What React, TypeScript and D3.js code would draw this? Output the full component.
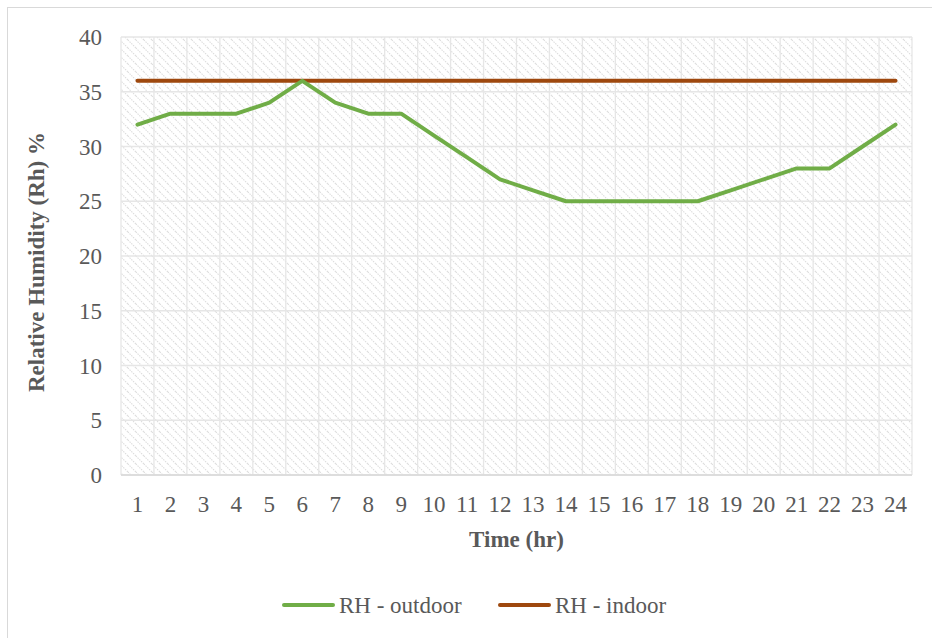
import React from "react";
import * as d3 from "d3";

const hours = Array.from({ length: 24 }, (_, i) => String(i + 1));
const outdoor = [32, 33, 33, 33, 34, 36, 34, 33, 33, 31, 29, 27, 26, 25, 25, 25, 25, 25, 26, 27, 28, 28, 30, 32];
const indoor = [36, 36, 36, 36, 36, 36, 36, 36, 36, 36, 36, 36, 36, 36, 36, 36, 36, 36, 36, 36, 36, 36, 36, 36];
const yTicks = [0, 5, 10, 15, 20, 25, 30, 35, 40];
const seriesNames = ["RH - outdoor", "RH - indoor"];
const colors = ["#70ad47", "#9e480e"];

const W = 932, H = 638;
const left = 121, right = 912, top = 37, bottom = 475;

export default function App() {
  const x = d3.scaleBand<string>().domain(hours).range([left, right]);
  const y = d3.scaleLinear().domain([0, 40]).range([bottom, top]);
  const line = d3.line<number>()
    .x((_, i) => (x(hours[i]) as number) + x.bandwidth() / 2)
    .y((d) => y(d));
  const font = "'Liberation Serif', 'Times New Roman', serif";
  const fs = 23;
  const boundaries = hours.map((h) => x(h) as number).concat([right]);
  return (
    <svg width={W} height={H} style={{ position: "absolute", left: 0, top: 0, background: "#fff" }}>
      <defs>
        <pattern id="hatch" width="8" height="8" patternUnits="userSpaceOnUse">
          <path d="M-2,-2 L10,10 M-2,6 L2,10 M6,-2 L10,2" stroke="#dcdcdc" strokeWidth="1.1" strokeDasharray="1.5 1" />
        </pattern>
      </defs>
      <rect x={7.5} y={7.5} width={W} height={H} fill="#fff" stroke="#d9d9d9" strokeWidth={1} />
      <rect x={left} y={top} width={right - left} height={bottom - top} fill="url(#hatch)" />
      {boundaries.map((bx, i) => (
        <line key={"v" + i} x1={bx} x2={bx} y1={top} y2={bottom} stroke="#e6e6e6" strokeWidth={1.3} />
      ))}
      {yTicks.map((t) => (
        <line key={"h" + t} x1={left} x2={right} y1={y(t)} y2={y(t)} stroke="#e6e6e6" strokeWidth={1.3} />
      ))}
      <line x1={left} x2={right} y1={bottom} y2={bottom} stroke="#d9d9d9" strokeWidth={1.5} />
      {yTicks.map((t) => (
        <text key={"yt" + t} x={102} y={y(t)} dy="0.35em" textAnchor="end" fontFamily={font} fontSize={fs} fill="#595959">{t}</text>
      ))}
      {hours.map((h) => (
        <text key={"xt" + h} x={(x(h) as number) + x.bandwidth() / 2} y={512} textAnchor="middle" fontFamily={font} fontSize={fs} fill="#595959">{h}</text>
      ))}
      <text x={(left + right) / 2} y={547} textAnchor="middle" fontFamily={font} fontSize={fs} fontWeight="bold" fill="#595959">Time (hr)</text>
      <text transform={`translate(44,${(top + bottom) / 2 + 6}) rotate(-90)`} textAnchor="middle" fontFamily={font} fontSize={fs} fontWeight="bold" fill="#595959">Relative Humidity (Rh) %</text>
      <path d={line(indoor) || ""} fill="none" stroke={colors[1]} strokeWidth={4} strokeLinecap="round" strokeLinejoin="round" />
      <path d={line(outdoor) || ""} fill="none" stroke={colors[0]} strokeWidth={4} strokeLinecap="round" strokeLinejoin="round" />
      {seriesNames.map((n, i) => {
        const lx = i === 0 ? 284 : 500;
        return (
          <g key={n}>
            <line x1={lx} x2={lx + 49} y1={605} y2={605} stroke={colors[i]} strokeWidth={4} strokeLinecap="round" />
            <text x={lx + 55} y={605} dy="0.35em" fontFamily={font} fontSize={fs} fill="#595959">{n}</text>
          </g>
        );
      })}
    </svg>
  );
}
